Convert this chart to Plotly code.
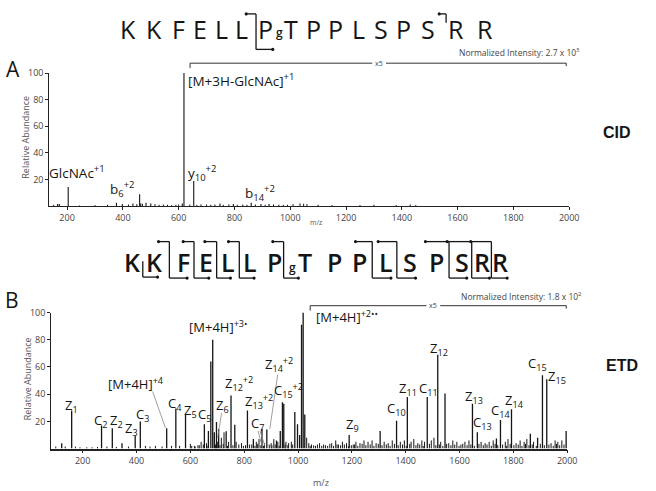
import plotly.graph_objects as go

W, H = 656, 491

# ---------------- Panel A (CID) ----------------
cid_mz = [166, 172, 204, 377, 398, 436, 460, 464, 483, 500, 613, 619, 654, 748, 796, 860, 895, 924, 959]
cid_int = [1.5, 1.5, 14.3, 2.5, 1.5, 2, 8.9, 2, 2.5, 2, 2, 100, 18.8, 2, 1.5, 2.5, 1.5, 1.5, 1]
cid_noise_mz = [152, 245, 300, 345, 420, 450, 470, 515, 530, 545, 560, 575, 590, 600, 640, 665, 680, 700, 715,
                730, 760, 780, 810, 830, 845, 875, 910, 940, 975, 990, 1010, 1035, 1048, 1060, 1100, 1150,
                1250, 1300, 1380, 1430, 1450]
cid_noise_int = [1, 0.5, 0.8, 1, 1.2, 1.5, 1.8, 1.5, 1, 1.2, 1, 0.8, 1, 1.2, 1.2, 1, 1.3, 1.2, 1,
                 1.2, 1, 1.3, 1, 1.2, 1, 1.2, 1, 1.3, 1, 1, 1.5, 2, 1.8, 1.5, 1, 0.8,
                 0.8, 1, 0.8, 1.2, 0.8]

# ---------------- Panel B (ETD) ----------------
etd_mz = [122, 159, 270, 310, 346, 395, 414, 512, 546, 582, 652, 667, 676, 683, 689, 697, 705, 733, 751, 765,
          812, 834, 866, 884, 920, 934, 942, 947, 988, 998, 1006, 1013, 1019, 1025, 1190, 1305, 1366, 1406,
          1480, 1519, 1546, 1648, 1666, 1737, 1752, 1793, 1863, 1890, 1908, 1924, 1996]
etd_int = [4, 28, 17, 15, 4, 9.5, 20, 15, 29.5, 25, 18, 13, 64, 80, 12, 19.5, 14.5, 12.7, 39, 17.5,
           28, 7, 14.6, 14, 6, 13, 34, 33, 27, 18, 10, 91, 100, 25, 10, 13, 20.5, 38,
           38, 69, 40.5, 33, 12, 7.5, 21, 29, 11, 8, 54, 51, 13]
etd_noise_mz = [100, 135, 173, 190, 215, 235, 255, 290, 325, 370, 433, 450, 470, 495, 530, 560, 600, 615, 628,
                640, 660, 700, 715, 725, 742, 770, 790, 820, 845, 855, 875, 900, 910, 925, 955, 965, 975, 1032,
                1040, 1050, 1065, 1080, 1095, 1110, 1125, 1140, 1150, 1165, 1180, 1205, 1215, 1230, 1245, 1260,
                1275, 1290, 1320, 1335, 1350, 1380, 1395, 1420, 1430, 1445, 1460, 1470, 1495, 1505, 1530, 1560,
                1575, 1590, 1605, 1620, 1635, 1680, 1695, 1710, 1725, 1770, 1780, 1810, 1825, 1840, 1850, 1875,
                1940, 1955, 1965, 1980]
etd_noise_int = [1.5, 1.5, 1.5, 1, 1, 1, 1.2, 1.5, 1.2, 1.5, 2, 1.5, 2, 1.5, 2, 2, 3.5, 2, 2.5,
                 5, 4, 5, 8, 12, 5, 5, 4, 3, 5, 7, 4, 4, 7, 5, 5, 4, 5, 8,
                 4, 3, 2, 4, 3, 2, 4, 6, 3, 5, 4, 3, 5, 4, 6, 5,
                 6, 4, 5, 4, 6, 5, 6, 5, 7, 4, 6, 5, 6, 8, 5, 4,
                 6, 5, 3, 5, 6, 5, 4, 5, 6, 5, 7, 4, 6, 5, 7, 5,
                 4, 6, 5, 6]
etd_grass_mz = [605, 618, 633, 648, 662, 693, 710, 722, 738, 758, 780, 797, 805, 828, 840, 850, 862, 872, 893,
                903, 915, 930, 952, 962, 980, 1045, 1058, 1072, 1088, 1102, 1118, 1132, 1145, 1158, 1172, 1187,
                1198, 1210, 1222, 1238, 1252, 1268, 1282, 1298, 1312, 1328, 1342, 1358, 1372, 1388, 1402, 1415,
                1438, 1452, 1465, 1488, 1512, 1525, 1538, 1552, 1568, 1582, 1598, 1612, 1628, 1642, 1655, 1672,
                1688, 1702, 1718, 1732, 1742, 1760, 1775, 1788, 1802, 1818, 1832, 1845, 1858, 1870, 1885, 1900,
                1915, 1932, 1948, 1960, 1972, 1988]
etd_grass_int = [2, 1.5, 2.5, 3, 2, 3, 2.5, 3.5, 2, 2.5, 3, 2, 2.5, 3, 2, 3.5, 2.5, 2, 3,
                 2.5, 3, 2, 3, 2.5, 3, 2, 2.5, 3, 2, 2.5, 3.5, 2, 3, 2.5, 3, 2,
                 2.5, 3, 2, 3.5, 2.5, 3, 2, 3.5, 2.5, 3, 2, 3.5, 2.5, 3, 2, 3.5,
                 2.5, 3, 2, 3.5, 2.5, 3, 2, 3.5, 2.5, 3, 2, 3.5, 2.5, 3, 2, 3.5,
                 2.5, 3, 2, 3.5, 2.5, 3, 2, 3.5, 2.5, 3, 2, 3.5, 2.5, 3, 2, 3.5,
                 2.5, 3, 2, 3.5, 2.5, 3]

mz_ticks = [200, 400, 600, 800, 1000, 1200, 1400, 1600, 1800, 2000]
ab_ticks = [20, 40, 60, 80, 100]

seqA_letters = ["K", "K", "F", "E", "L", "L", "P", "T", "P", "P", "L", "S", "P", "S", "R", "R"]
seqB_letters = ["K", "K", "F", "E", "L", "L", "P", "T", "P", "P", "L", "S", "P", "S", "R", "R"]

# ---------------- helpers ----------------
def sticks(mz, inten):
    xs, ys = [], []
    for m, v in zip(mz, inten):
        xs += [m, m, None]
        ys += [0, v, None]
    return xs, ys

def PX(x):
    return x / W

def PY(y):
    return 1 - y / H

INK = "#151515"
FONT = "Open Sans"

fig = go.Figure()
for (mz, it, w, ax) in [(cid_noise_mz, cid_noise_int, 1, "A"), (cid_mz, cid_int, 1.1, "A"),
                        (etd_grass_mz, etd_grass_int, 1, "B"), (etd_noise_mz, etd_noise_int, 1, "B"),
                        (etd_mz, etd_int, 1.3, "B")]:
    xs, ys = sticks(mz, it)
    fig.add_trace(go.Scatter(x=xs, y=ys, mode="lines", line=dict(color=INK, width=w),
                             xaxis="x" if ax == "A" else "x2", yaxis="y" if ax == "A" else "y2",
                             hoverinfo="skip", showlegend=False))

axis_common = dict(showline=True, linecolor="#222", ticks="outside", ticklen=3,
                   tickwidth=1, tickcolor="#222", showgrid=False, zeroline=False,
                   tickfont=dict(family=FONT, size=9, color="#444"))

fig.update_layout(
    width=W, height=H, margin=dict(l=0, r=0, t=0, b=0),
    paper_bgcolor="white", plot_bgcolor="white", showlegend=False,
    xaxis=dict(domain=[PX(50), PX(578)], range=[136, 2000], anchor="y", tickvals=mz_ticks,
               linewidth=1, **axis_common),
    yaxis=dict(domain=[PY(202), PY(67)], range=[0, 100], anchor="x", tickvals=ab_ticks,
               linewidth=1, **axis_common),
    xaxis2=dict(domain=[PX(52), PX(576)], range=[83, 2000], anchor="y2", tickvals=mz_ticks,
                linewidth=1.5, **axis_common),
    yaxis2=dict(domain=[PY(448), PY(310)], range=[0, 100], anchor="x2", tickvals=ab_ticks,
                linewidth=1, **axis_common),
)

ann = []
def note(text, x, y, size=12, xref="paper", yref="paper", xanchor="center", yanchor="middle",
         color=INK, family=FONT, angle=0, weight="normal"):
    ann.append(dict(text=text, x=x, y=y, xref=xref, yref=yref, xanchor=xanchor, yanchor=yanchor,
                    showarrow=False, textangle=angle,
                    font=dict(family=family, size=size, color=color, weight=weight)))

# panel letters and side labels
note("A", PX(13), PY(63), size=21)
note("B", PX(12), PY(297), size=21)
note("<b>CID</b>", PX(627), PY(127), size=16, family="Liberation Sans")
note("<b>ETD</b>", PX(632), PY(364), size=16, family="Liberation Sans")
note("Relative Abundance", PX(26), PY(132), size=9, color="#555", angle=-90)
note("Relative Abundance", PX(28), PY(377), size=9, color="#555", angle=-90)
note("m/z", PX(321), PY(219), size=7, color="#555")
note("m/z", PX(326), PY(482), size=9, color="#555")
note("Normalized Intensity: 2.7 x 10<sup>3</sup>", PX(591), PY(46), size=8.5, color="#444", xanchor="right")
note("Normalized Intensity: 1.8 x 10<sup>2</sup>", PX(593), PY(293), size=8.5, color="#444", xanchor="right")
note("x5", PX(385), PY(57), size=7, color="#444")
note("x5", PX(440), PY(303), size=7, color="#444")

# peak labels panel A (data coords)
for t, x, y, anc in [("[M+3H-GlcNAc]<sup>+1</sup>", 626, 95, "left"),
                     ("GlcNAc<sup>+1</sup>", 236, 25.5, "center"),
                     ("b<sub>6</sub><sup>+2</sup>", 398, 13, "center"),
                     ("y<sub>10</sub><sup>+2</sup>", 682, 25, "center"),
                     ("b<sub>14</sub><sup>+2</sup>", 890, 10, "center")]:
    note(t, x, y, size=13.5, xref="x", yref="y", xanchor=anc, weight=500)

# peak labels panel B (data coords)
for t, x, y in [("Z<sub>1</sub>", 160, 31), ("C<sub>2</sub>", 266, 20), ("Z<sub>2</sub>", 324, 20),
                ("Z<sub>3</sub>", 383, 14.5), ("C<sub>3</sub>", 423, 25), ("[M+4H]<sup>+4</sup>", 397, 48),
                ("C<sub>4</sub>", 544, 33), ("Z<sub>5</sub>", 599, 27.5), ("C<sub>5</sub>", 652, 25),
                ("[M+4H]<sup>+3•</sup>", 701, 90), ("Z<sub>6</sub>", 721, 31),
                ("Z<sub>12</sub><sup>+2</sup>", 781, 48), ("Z<sub>13</sub><sup>+2</sup>", 854, 35),
                ("C<sub>7</sub>", 851, 18), ("Z<sub>14</sub><sup>+2</sup>", 928, 62),
                ("C<sub>15</sub><sup>+2</sup>", 964, 43), ("Z<sub>9</sub>", 1202, 17),
                ("C<sub>10</sub>", 1366, 29), ("Z<sub>11</sub>", 1410, 43.5), ("C<sub>11</sub>", 1483, 43.5),
                ("Z<sub>12</sub>", 1523, 73), ("Z<sub>13</sub>", 1655, 37.7), ("C<sub>13</sub>", 1684, 19),
                ("C<sub>14</sub>", 1754, 27.5), ("Z<sub>14</sub>", 1805, 35), ("C<sub>15</sub>", 1889, 62),
                ("Z<sub>15</sub>", 1962, 53)]:
    note(t, x, y, size=13, xref="x2", yref="y2", weight=500)
note("[M+4H]<sup>+2••</sup>", 1058, 97, size=13, xref="x2", yref="y2", xanchor="left", weight=500)

# sequences
seqA_pos = [130, 156, 181, 203, 225, 245, 270, 296, 318, 341, 364, 387, 410, 435, 463, 492]
for L, p in zip(seqA_letters, seqA_pos):
    note(L, PX(p), PY(22), size=25, weight=500)
note("g", PX(284), PY(26), size=12, weight=600)
seqB_pos = [134, 156, 186, 209, 232, 254, 279, 310, 340, 365, 392, 416, 443, 469, 489, 508]
for L, p in zip(seqB_letters, seqB_pos):
    note(L, PX(p), PY(259), size=25, weight=600)
note("g", PX(297), PY(264), size=12, weight=600)

shapes = []
def seg(x0, y0, x1, y1, color=INK, width=1):
    shapes.append(dict(type="line", xref="paper", yref="paper", x0=PX(x0), y0=PY(y0), x1=PX(x1), y1=PY(y1),
                       line=dict(color=color, width=width)))

def dot(x, y, r=1.6):
    shapes.append(dict(type="circle", xref="paper", yref="paper", x0=PX(x - r), x1=PX(x + r),
                       y0=PY(y + r), y1=PY(y - r), fillcolor=INK, line=dict(width=0)))

def bracket(v, top, bot, yt, yb, width=1.3):
    y0 = yt if top is not None else (yt + yb) / 2
    y1 = yb if bot is not None else (yt + yb) / 2
    seg(v, y0, v, y1, width=width)
    if top is not None:
        seg(top, yt, v, yt, width=width)
        dot(top, yt)
    if bot is not None:
        seg(v, yb, bot, yb, width=width)
        dot(bot, yb)

# CID sequence brackets
bracket(260, 250, 277, 7, 43)
bracket(453, 446, None, 7, 25)

# ETD sequence brackets
for v, t, b in [(145, None, 160), (172, 161, 190), (197, 186, 212), (220, 208, 234), (243, 232, 258),
                (288, 277, 303), (378, 361, 397), (403, 384, 422), (456, 432, 474), (479, 454, 497),
                (499, 478, 515)]:
    if t is None:
        seg(v, 258, v, 274, width=1.3)
        seg(v, 274, b, 274, width=1.3)
        dot(b, 274)
    else:
        bracket(v, t, b, 238, 275)

# x5 brackets
seg(193, 57, 378, 57, color="#333")
seg(392, 57, 575, 57, color="#333")
seg(193, 57, 193, 62, color="#333")
seg(575, 57, 575, 60, color="#333")
seg(315, 303, 433, 303, color="#333")
seg(447, 303, 575, 303, color="#333")
seg(315, 303, 315, 308, color="#333")
seg(575, 303, 575, 306, color="#333")

# connector lines in ETD panel
for x0, y0, x1, y1 in [(155, 390, 168, 427), (225, 412, 221, 437), (262, 430, 266, 445),
                       (264, 430, 269, 445), (282, 373, 274, 428)]:
    seg(x0, y0, x1, y1, color="#888", width=0.8)

fig.update_layout(annotations=ann, shapes=shapes)
fig.write_html("out.html")
